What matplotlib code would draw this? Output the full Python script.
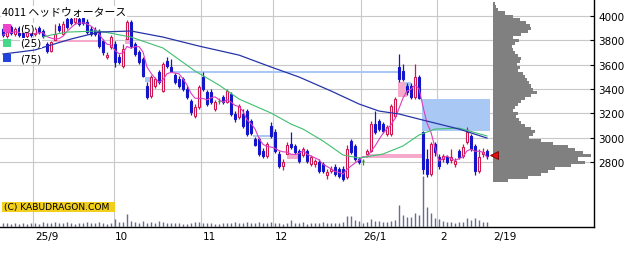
import numpy as np
import pandas as pd
import matplotlib
matplotlib.use("Agg")
import matplotlib.pyplot as plt
from matplotlib.patches import Rectangle

# daily candles, 2025/8/20 .. 2026/2/19
opens = [3893, 3836, 3910, 3852, 3901, 3868, 3836, 3885, 3852, 3901,
         3877, 3770, 3712, 3803, 3918, 3852, 3975, 3975, 3951, 3975,
         3984, 3951, 3893, 3885, 3877, 3795, 3663, 3745, 3770, 3663,
         3589, 3811, 3951, 3770, 3704, 3647, 3425, 3343, 3425, 3540,
         3384, 3630, 3581, 3515, 3482, 3482, 3400, 3301, 3178, 3252,
         3499, 3375, 3375, 3236, 3301, 3334, 3293, 3359, 3195, 3170,
         3195, 3219, 3137, 2989, 2989, 2890, 2849, 3096, 3047, 2866,
         2767, 2866, 2948, 2932, 2890, 2858, 2890, 2784, 2784, 2800,
         2784, 2693, 2726, 2759, 2742, 2742, 2677, 2973, 2932, 2825,
         2808, 2866, 2890, 3112, 3137, 3112, 3030, 3030, 3178, 3581,
         3548, 3425, 3425, 3334, 3499, 3047, 2825, 2701, 2948, 2841,
         2825, 2841, 2816, 2784, 2890, 2849, 2964, 3014, 2932, 2726,
         2866, 2890]
highs = [3910, 3901, 3926, 3910, 3918, 3885, 3893, 3901, 3910, 3918,
         3893, 3786, 3795, 3934, 3942, 3959, 3992, 4016, 4041, 4025,
         4016, 3975, 3918, 3910, 3893, 3811, 3704, 3844, 3795, 3688,
         3770, 3967, 3967, 3786, 3721, 3663, 3458, 3515, 3499, 3556,
         3622, 3663, 3647, 3531, 3507, 3499, 3425, 3318, 3277, 3433,
         3540, 3392, 3400, 3310, 3326, 3351, 3400, 3375, 3219, 3277,
         3236, 3236, 3153, 3005, 3005, 2915, 2964, 3129, 3071, 2890,
         2825, 2964, 3047, 2948, 2907, 2923, 2907, 2858, 2825, 2825,
         2800, 2742, 2767, 2784, 2759, 2767, 2940, 2989, 2948, 2841,
         2825, 2907, 3137, 3219, 3153, 3129, 3104, 3277, 3334, 3688,
         3605, 3449, 3449, 3605, 3515, 3055, 2907, 2964, 2964, 2866,
         2866, 2858, 2907, 2833, 2907, 2948, 3088, 3030, 2948, 2907,
         2915, 2907]
lows = [3827, 3819, 3844, 3836, 3827, 3811, 3819, 3827, 3836, 3852,
        3819, 3696, 3704, 3803, 3868, 3844, 3893, 3926, 3934, 3918,
        3926, 3852, 3836, 3836, 3737, 3679, 3647, 3729, 3581, 3605,
        3573, 3811, 3737, 3671, 3605, 3499, 3318, 3326, 3408, 3441,
        3375, 3573, 3548, 3441, 3408, 3384, 3318, 3186, 3162, 3236,
        3384, 3260, 3277, 3219, 3277, 3277, 3285, 3178, 3129, 3153,
        3079, 3014, 3022, 2932, 2849, 2833, 2833, 2997, 2874, 2751,
        2734, 2866, 2907, 2866, 2792, 2841, 2792, 2767, 2759, 2710,
        2710, 2660, 2710, 2685, 2668, 2644, 2660, 2866, 2808, 2784,
        2775, 2866, 2882, 3030, 3055, 3038, 3014, 3014, 3162, 3458,
        3466, 3351, 3318, 3318, 3318, 2701, 2677, 2685, 2849, 2742,
        2800, 2784, 2792, 2759, 2825, 2833, 2948, 2890, 2693, 2710,
        2841, 2825]
closes = [3844, 3885, 3860, 3893, 3844, 3827, 3877, 3844, 3893, 3868,
          3836, 3712, 3786, 3852, 3885, 3934, 3910, 3942, 3992, 3934,
          3942, 3868, 3852, 3852, 3753, 3704, 3679, 3827, 3622, 3622,
          3729, 3951, 3753, 3688, 3622, 3507, 3334, 3499, 3482, 3458,
          3605, 3589, 3548, 3458, 3425, 3400, 3334, 3211, 3252, 3416,
          3400, 3277, 3293, 3293, 3301, 3293, 3384, 3195, 3153, 3260,
          3096, 3030, 3038, 2940, 2866, 2849, 2948, 3014, 2890, 2767,
          2800, 2940, 2923, 2882, 2808, 2907, 2808, 2841, 2808, 2726,
          2726, 2718, 2742, 2701, 2685, 2660, 2907, 2882, 2825, 2800,
          2808, 2890, 3112, 3047, 3071, 3055, 3088, 3260, 3318, 3482,
          3482, 3375, 3334, 3499, 3326, 2742, 2701, 2948, 2882, 2767,
          2849, 2800, 2841, 2808, 2841, 2923, 3047, 2907, 2726, 2841,
          2882, 2849]
volume = [40, 40, 30, 40, 30, 40, 30, 40, 40, 30,
          50, 40, 40, 50, 40, 40, 50, 40, 30, 40,
          40, 50, 40, 40, 50, 40, 30, 40, 80, 50,
          50, 130, 60, 50, 40, 60, 40, 50, 40, 60,
          50, 40, 40, 40, 40, 30, 30, 40, 50, 50,
          40, 40, 40, 30, 30, 40, 40, 40, 50, 40,
          40, 50, 40, 40, 50, 40, 40, 50, 40, 40,
          30, 40, 70, 40, 40, 50, 30, 40, 40, 40,
          50, 40, 40, 40, 40, 50, 110, 110, 70, 60,
          40, 50, 80, 60, 60, 50, 50, 60, 70, 220,
          120, 100, 100, 140, 120, 500, 200, 140, 90, 80,
          60, 50, 50, 40, 50, 50, 90, 70, 90, 70,
          50, 50]

# 25 / 75 day moving averages (day index, price)
ma25_idx = [10, 12, 16, 24, 32, 40, 48, 54, 59, 67, 72, 75, 80, 85, 89, 95, 100, 104, 108, 114, 121]
ma25_val = [3827, 3844, 3868, 3877, 3827, 3737, 3548, 3433, 3318, 3203, 3112, 3071, 2973, 2858,
            2833, 2866, 2932, 3022, 3071, 3079, 3014]
ma75_idx = [0, 4, 8, 12, 17, 24, 32, 40, 49, 59, 67, 74, 82, 89, 94, 99, 104, 109, 114, 121]
ma75_val = [3688, 3704, 3721, 3762, 3811, 3868, 3877, 3827, 3753, 3679, 3581, 3499, 3384, 3277,
            3219, 3195, 3153, 3112, 3071, 2997]

# open price gaps (from day, to day, low, high, kind)
gap_from = [12.5, 30.5, 35.5, 42.5, 62.5, 71.0, 90.75, 98.75, 100.5, 104.75]
gap_to = [24.25, 32.0, 36.75, 99.25, 67.25, 73.75, 105.0, 101.0, 102.0, 121.75]
gap_lo = [3786, 3770, 3458, 3531, 3005, 2825, 2833, 3334, 3425, 3055]
gap_hi = [3803, 3811, 3499, 3548, 3022, 2866, 2866, 3458, 3458, 3318]
gap_kind = ["up", "up", "down", "down", "down", "up", "up", "up", "down", "down"]

# volume by price
profile_price = [4100, 4075, 4050, 4025, 4000, 3975, 3950, 3925, 3900, 3875, 3850, 3825,
                 3800, 3775, 3750, 3725, 3700, 3675, 3650, 3625, 3600, 3575, 3550, 3525,
                 3500, 3475, 3450, 3425, 3400, 3375, 3350, 3325, 3300, 3275, 3250, 3225,
                 3200, 3175, 3150, 3125, 3100, 3075, 3050, 3025, 3000, 2975, 2950, 2925,
                 2900, 2875, 2850, 2825, 2800, 2775, 2750, 2725, 2700, 2675, 2650]
profile_vol = [2, 3, 5, 12, 20, 27, 33, 37, 38, 35, 28, 20,
               26, 22, 19, 20, 22, 25, 28, 27, 24, 27, 25, 30,
               32, 34, 36, 38, 40, 44, 38, 32, 28, 25, 22, 20,
               25, 23, 26, 28, 32, 38, 42, 40, 36, 48, 60, 75,
               82, 90, 98, 85, 92, 78, 62, 55, 48, 35, 15]

price_ticks = [2800, 3000, 3200, 3400, 3600, 3800, 4000]
month_grid = [7.5, 27.75, 49.5, 67.5, 89.5, 108.5]
month_labels = ["25/9", "10", "11", "12", "26/1", "2", "2/19"]
label_pos = [8, 28, 50, 68, 90, 109.25, 122.5]

UP = "#d0164e"
DOWN = "#1414c8"
DOJI = "#1a9a2a"
GRID = "#c8c8c8"

W, H = 639, 255
fig = plt.figure(figsize=(W / 100, H / 100), dpi=100)
ax = fig.add_axes([0, 27 / H, 594 / W, 228 / H])
ax.set_xlim(-0.75, 147.75)
ax.set_ylim(2266, 4140)


def axf(x, y):
    # pixel inside the price panel -> axes fraction
    return x / 594, 1 - y / 228


# grid + axes
ax.set_axisbelow(True)
ax.yaxis.tick_right()
ax.set_yticks(price_ticks)
ax.set_yticklabels([str(p) for p in price_ticks])
ax.tick_params(axis="y", direction="in", length=3, width=0.8, pad=3, labelsize=7.5)
ax.grid(axis="y", color=GRID, lw=0.8)
for g in month_grid:
    ax.axvline(g, color=GRID, lw=0.8, zorder=0)
ax.set_xticks(label_pos)
ax.set_xticklabels(month_labels)
for t in ax.get_xticklabels():
    t.set_ha("left")
ax.tick_params(axis="x", length=0, pad=3, labelsize=7.5)
for s in ["left", "top"]:
    ax.spines[s].set_visible(False)
for s in ["right", "bottom"]:
    ax.spines[s].set_color("black")
    ax.spines[s].set_linewidth(1.0)

# gaps
for s, e, lo, hi, k in zip(gap_from, gap_to, gap_lo, gap_hi, gap_kind):
    ax.fill_between([s, e], lo, hi, color="#f5aacb" if k == "up" else "#a9c9f4", lw=0, zorder=1)

# candles
for i, (o, h, l, c) in enumerate(zip(opens, highs, lows, closes)):
    if c > o:
        col, face = UP, "white"
    elif c < o:
        col, face = DOWN, DOWN
    else:
        col, face = DOJI, DOJI
    ax.vlines(i, l, h, color=col, lw=0.9, zorder=3)
    if c == o:
        ax.hlines(c, i - 0.35, i + 0.35, color=col, lw=1.0, zorder=3.5)
    else:
        ax.bar(i, abs(c - o), bottom=min(o, c), width=0.55, facecolor=face,
               edgecolor=col, lw=0.8, zorder=3.5)

# moving averages
idx = np.arange(len(closes))
ma5 = pd.Series(closes).rolling(5, min_periods=1).mean()
ax.plot(idx, ma5, color="#de3cc0", lw=0.8, zorder=4)
ax.plot(ma25_idx, ma25_val, color="#3fbf70", lw=0.8, zorder=4)
ax.plot(ma75_idx, ma75_val, color="#2535a8", lw=0.9, zorder=4)

# volume
vax = ax.inset_axes([0, 0, 1, 60 / 228])
vax.set_xlim(ax.get_xlim())
vax.set_ylim(0, 590)
vax.vlines(idx, 0, volume, color="#6a6a92", lw=1.0)
vax.axis("off")
vax.patch.set_alpha(0)

# price profile
pax = ax.inset_axes([493 / 594, 0, 101 / 594, 1])
pax.set_ylim(ax.get_ylim())
pax.set_xlim(0, 101)
pax.barh(profile_price, profile_vol, height=25, color="#808080", lw=0)
pax.axis("off")
pax.patch.set_alpha(0)

# last price marker
ax.plot(len(closes) + 0.75, closes[-1] + 9, marker="<", ms=6, color="#e01010",
        mec="#7a0000", mew=0.6, zorder=10, clip_on=False)

# title and legend
ax.text(*axf(2, 13), "4011 ヘッドウォータース", transform=ax.transAxes, ha="left", va="center",
        fontsize=7.8, family=["Noto Sans CJK JP", "DejaVu Sans"], zorder=10,
        bbox=dict(fc="white", ec="none", pad=0.4))
legend = [("(5)", "#ee44cc", 29), ("(25)", "#44d888", 44), ("(75)", "#2244dd", 59)]
for txt, col, y in legend:
    x0, y0 = axf(3, y + 4)
    ax.add_patch(Rectangle((x0, y0), 8 / 594, 8 / 228, transform=ax.transAxes,
                           fc=col, ec="none", zorder=11))
    ax.text(*axf(20, y), txt, transform=ax.transAxes, ha="left", va="center",
            fontsize=7.5, zorder=10, bbox=dict(fc="white", ec="none", pad=0.3))

# copyright
x0, y0 = axf(2, 213)
ax.add_patch(Rectangle((x0, y0), 113 / 594, 10 / 228, transform=ax.transAxes,
                       fc="#f2cf1d", ec="none", zorder=10))
ax.text(*axf(4, 208), "(C) KABUDRAGON.COM", transform=ax.transAxes, ha="left", va="center",
        fontsize=6.6, zorder=11)

fig.savefig("out.png", dpi=100)
